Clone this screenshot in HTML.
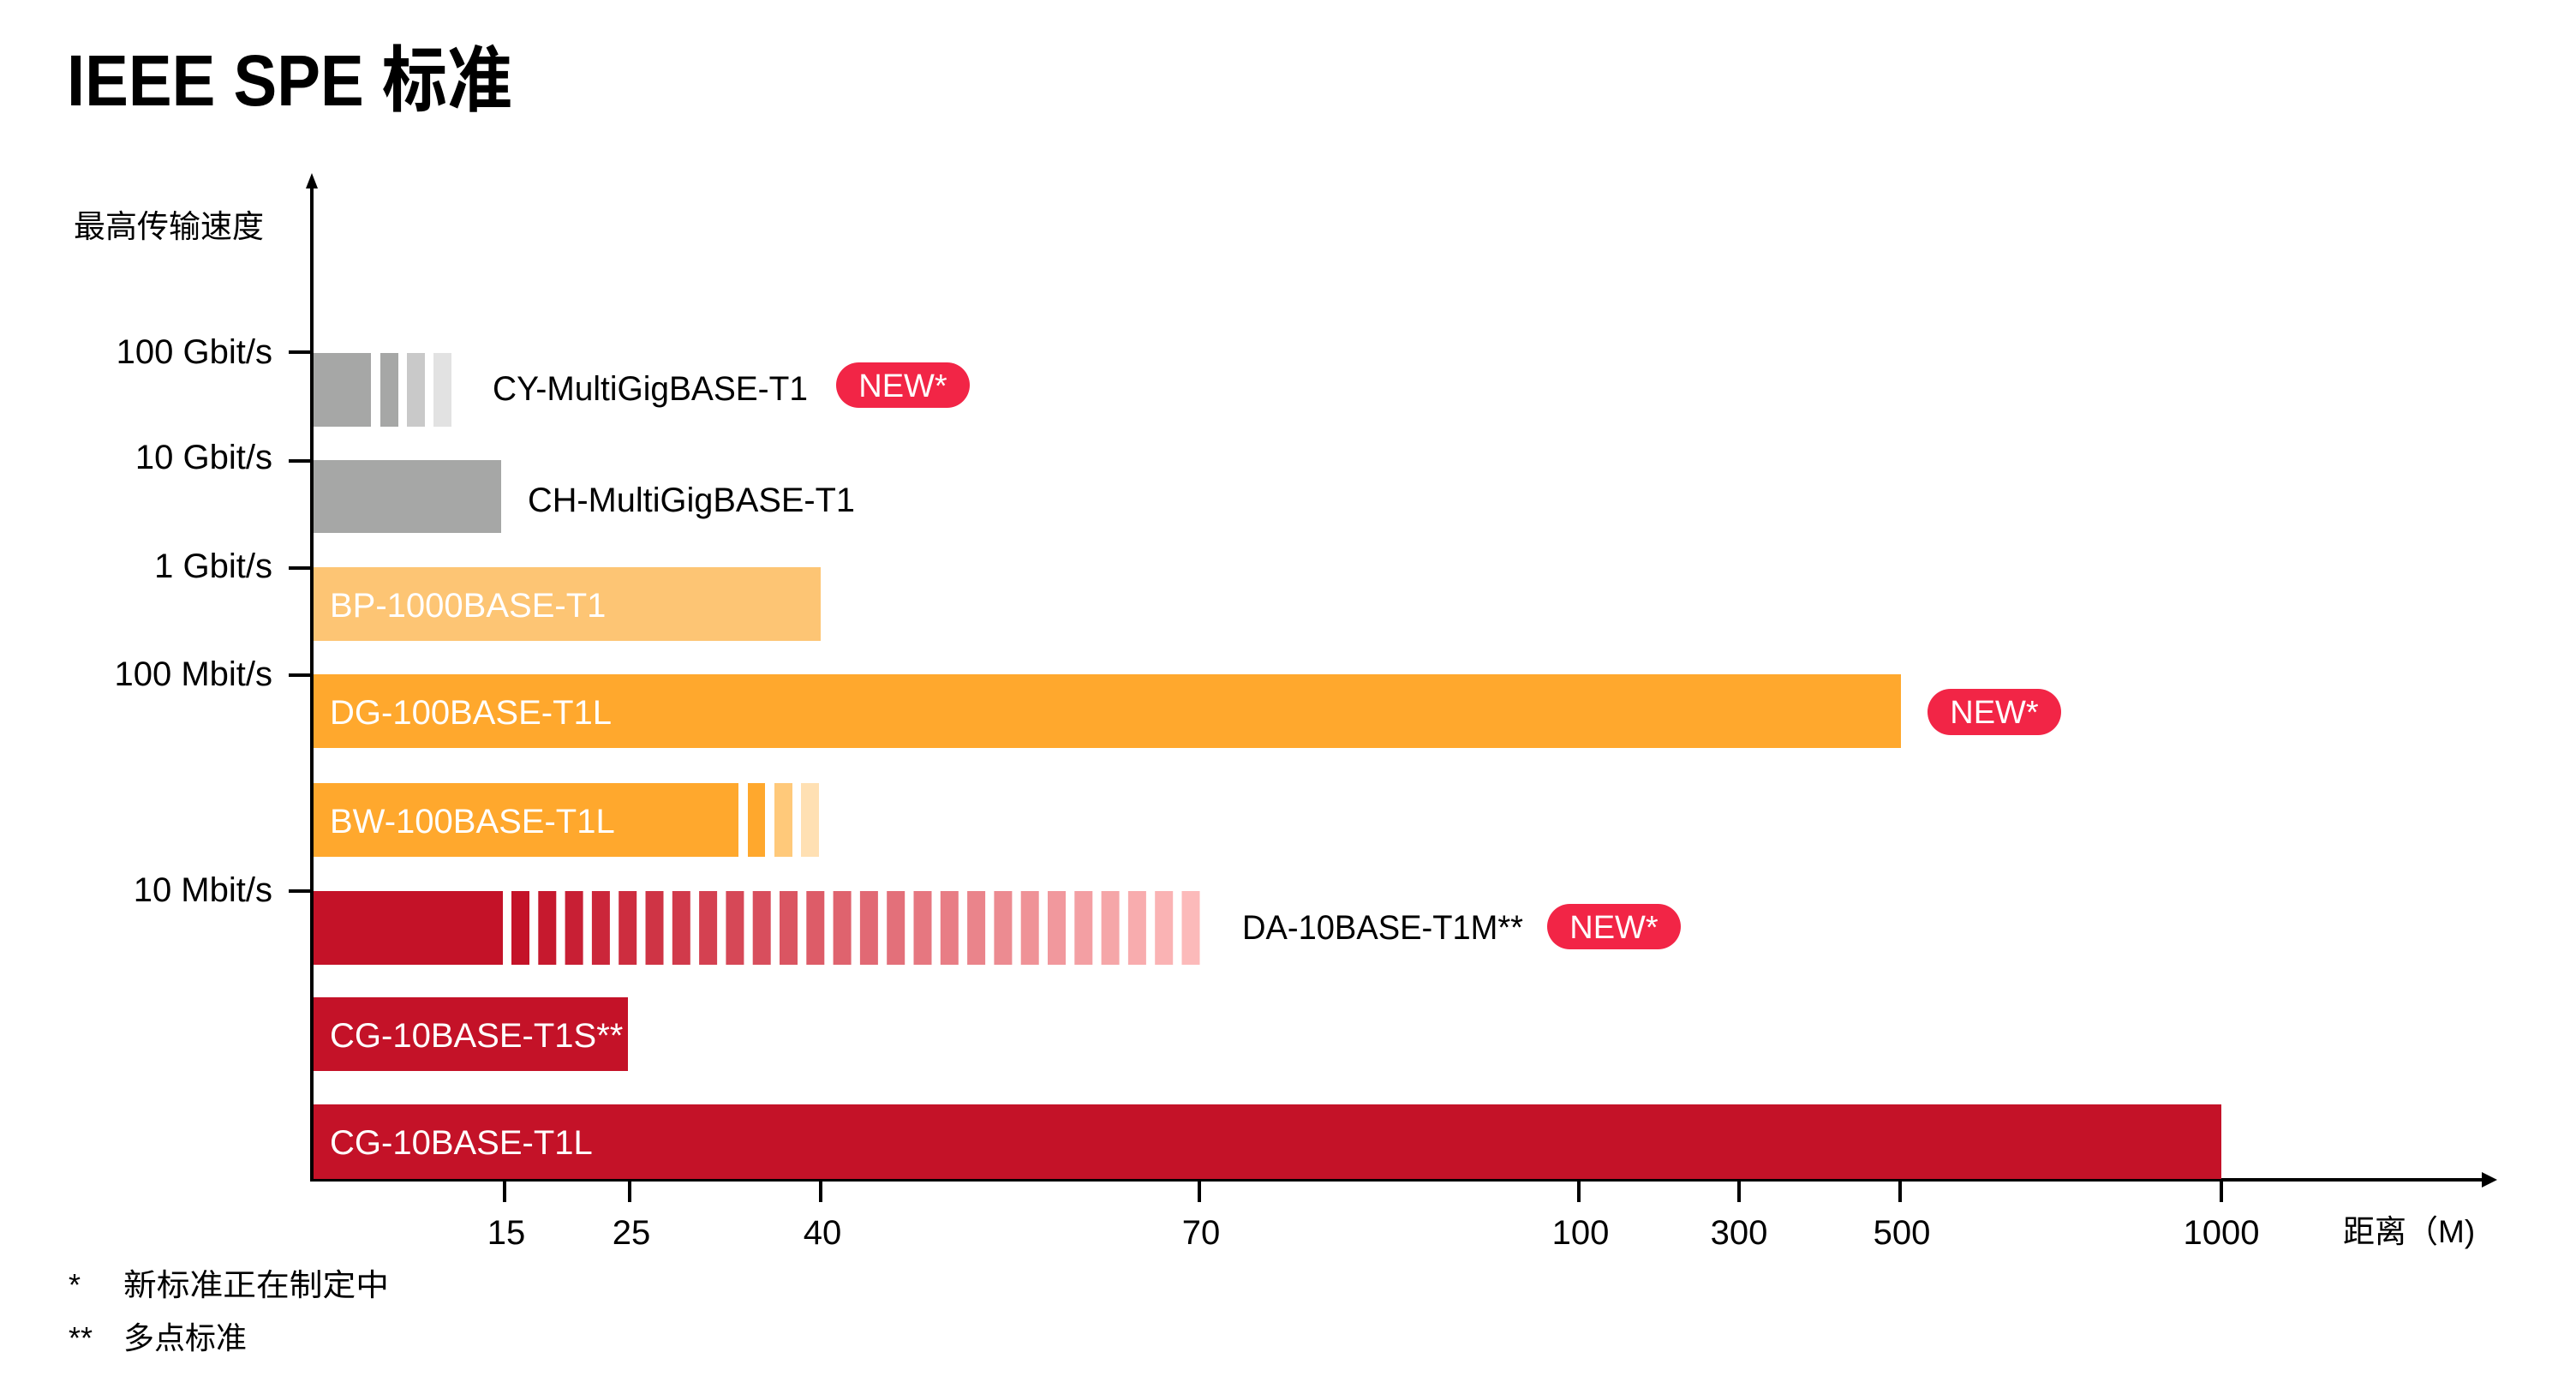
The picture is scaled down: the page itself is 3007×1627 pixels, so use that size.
<!DOCTYPE html>
<html><head><meta charset="utf-8"><style>
html,body{margin:0;padding:0;background:#fff;}
svg{display:block;font-family:"Liberation Sans","Noto Sans CJK SC",sans-serif;}
</style></head><body>
<svg width="3007" height="1627" viewBox="0 0 3007 1627" xmlns="http://www.w3.org/2000/svg">
<rect width="3007" height="1627" fill="#fff"/>
<text x="78" y="123" font-size="84" font-weight="bold" fill="#000" textLength="520" lengthAdjust="spacingAndGlyphs">IEEE SPE 标准</text>
<text x="86" y="277" font-size="37" fill="#000">最高传输速度</text>
<line x1="364" y1="214" x2="364" y2="1379" stroke="#000" stroke-width="4"/>
<polygon points="364,202 357,220 371,220" fill="#000"/>
<line x1="362" y1="1377" x2="2900" y2="1377" stroke="#000" stroke-width="4"/>
<polygon points="2915,1377 2897,1368 2897,1386" fill="#000"/>
<g stroke="#000" stroke-width="4">
<line x1="337" y1="411" x2="364" y2="411"/>
<line x1="337" y1="538" x2="364" y2="538"/>
<line x1="337" y1="663" x2="364" y2="663"/>
<line x1="337" y1="788" x2="364" y2="788"/>
<line x1="337" y1="1040" x2="364" y2="1040"/>
</g>
<g font-size="40" fill="#000" text-anchor="end">
<text x="318" y="424">100 Gbit/s</text>
<text x="318" y="547">10 Gbit/s</text>
<text x="318" y="674">1 Gbit/s</text>
<text x="318" y="800">100 Mbit/s</text>
<text x="318" y="1052">10 Mbit/s</text>
</g>
<rect x="366" y="412" width="67" height="86" fill="#a6a7a6"/>
<rect x="444" y="412" width="21" height="86" fill="#a6a7a6"/>
<rect x="475" y="412" width="21" height="86" fill="#c9c9c9"/>
<rect x="506" y="412" width="21" height="86" fill="#e2e2e2"/>
<text x="575" y="467" font-size="40" fill="#000" textLength="368" lengthAdjust="spacingAndGlyphs">CY-MultiGigBASE-T1</text>
<rect x="976" y="423" width="156" height="53" rx="26.5" fill="#f22546"/>
<text x="1054" y="463" font-size="38" fill="#fff" text-anchor="middle">NEW*</text>

<rect x="366" y="537" width="219" height="85" fill="#a6a7a6"/>
<text x="616" y="597" font-size="40" fill="#000" textLength="382" lengthAdjust="spacingAndGlyphs">CH-MultiGigBASE-T1</text>

<rect x="366" y="662" width="592" height="86" fill="#fdc574"/>
<text x="385" y="720" font-size="40" fill="#fff">BP-1000BASE-T1</text>

<rect x="366" y="787" width="1853" height="86" fill="#ffa82d"/>
<text x="385" y="845" font-size="40" fill="#fff">DG-100BASE-T1L</text>
<rect x="2250" y="804" width="156" height="54" rx="27" fill="#f22546"/>
<text x="2328" y="844" font-size="38" fill="#fff" text-anchor="middle">NEW*</text>

<rect x="366" y="914" width="496" height="86" fill="#ffa82d"/>
<rect x="873" y="914" width="20" height="86" fill="#ffa82d"/>
<rect x="904" y="914" width="21" height="86" fill="#ffc97a"/>
<rect x="935" y="914" width="21" height="86" fill="#ffe0b3"/>
<text x="385" y="972" font-size="40" fill="#fff">BW-100BASE-T1L</text>

<rect x="366" y="1040" width="221" height="86" fill="#c41228"/>
<g>
<rect x="597" y="1040" width="21" height="86" fill="rgb(196,18,40)"/>
<rect x="628.3" y="1040" width="21" height="86" fill="rgb(198,25,46)"/>
<rect x="659.6" y="1040" width="21" height="86" fill="rgb(200,31,52)"/>
<rect x="690.9" y="1040" width="21" height="86" fill="rgb(203,38,58)"/>
<rect x="722.2" y="1040" width="21" height="86" fill="rgb(205,45,63)"/>
<rect x="753.5" y="1040" width="21" height="86" fill="rgb(207,52,69)"/>
<rect x="784.8" y="1040" width="21" height="86" fill="rgb(209,58,75)"/>
<rect x="816.1" y="1040" width="21" height="86" fill="rgb(212,65,81)"/>
<rect x="847.4" y="1040" width="21" height="86" fill="rgb(214,72,87)"/>
<rect x="878.7" y="1040" width="21" height="86" fill="rgb(216,78,93)"/>
<rect x="910" y="1040" width="21" height="86" fill="rgb(218,85,98)"/>
<rect x="941.3" y="1040" width="21" height="86" fill="rgb(221,92,104)"/>
<rect x="972.6" y="1040" width="21" height="86" fill="rgb(223,99,110)"/>
<rect x="1003.9" y="1040" width="21" height="86" fill="rgb(225,105,116)"/>
<rect x="1035.2" y="1040" width="21" height="86" fill="rgb(227,112,122)"/>
<rect x="1066.5" y="1040" width="21" height="86" fill="rgb(230,119,128)"/>
<rect x="1097.8" y="1040" width="21" height="86" fill="rgb(232,125,133)"/>
<rect x="1129.1" y="1040" width="21" height="86" fill="rgb(234,132,139)"/>
<rect x="1160.4" y="1040" width="21" height="86" fill="rgb(236,139,145)"/>
<rect x="1191.7" y="1040" width="21" height="86" fill="rgb(239,146,151)"/>
<rect x="1223" y="1040" width="21" height="86" fill="rgb(241,152,157)"/>
<rect x="1254.3" y="1040" width="21" height="86" fill="rgb(243,159,163)"/>
<rect x="1285.6" y="1040" width="21" height="86" fill="rgb(245,166,168)"/>
<rect x="1316.9" y="1040" width="21" height="86" fill="rgb(248,172,174)"/>
<rect x="1348.2" y="1040" width="21" height="86" fill="rgb(250,179,180)"/>
<rect x="1379.5" y="1040" width="21" height="86" fill="rgb(252,186,186)"/>
</g>
<text x="1450" y="1096" font-size="40" fill="#000" textLength="328" lengthAdjust="spacingAndGlyphs">DA-10BASE-T1M**</text>
<rect x="1806" y="1055" width="156" height="53" rx="26.5" fill="#f22546"/>
<text x="1884" y="1095" font-size="38" fill="#fff" text-anchor="middle">NEW*</text>

<rect x="366" y="1164" width="367" height="86" fill="#c41228"/>
<text x="385" y="1222" font-size="40" fill="#fff">CG-10BASE-T1S**</text>

<rect x="366" y="1289" width="2227" height="87" fill="#c41228"/>
<text x="385" y="1347" font-size="40" fill="#fff">CG-10BASE-T1L</text>

<g stroke="#000" stroke-width="4">
<line x1="589" y1="1377" x2="589" y2="1403"/>
<line x1="735" y1="1377" x2="735" y2="1403"/>
<line x1="958" y1="1377" x2="958" y2="1403"/>
<line x1="1400" y1="1377" x2="1400" y2="1403"/>
<line x1="1843" y1="1377" x2="1843" y2="1403"/>
<line x1="2030" y1="1377" x2="2030" y2="1403"/>
<line x1="2218" y1="1377" x2="2218" y2="1403"/>
<line x1="2593" y1="1377" x2="2593" y2="1403"/>
</g>
<g font-size="40" fill="#000" text-anchor="middle">
<text x="591" y="1452">15</text>
<text x="737" y="1452">25</text>
<text x="960" y="1452">40</text>
<text x="1402" y="1452">70</text>
<text x="1845" y="1452">100</text>
<text x="2030" y="1452">300</text>
<text x="2220" y="1452">500</text>
<text x="2593" y="1452">1000</text>
</g>
<text x="2735" y="1450" font-size="37" fill="#000">距离（M)</text>
<g font-size="36" fill="#000">
<text x="80" y="1512">*</text>
<text x="144" y="1512" textLength="310" lengthAdjust="spacingAndGlyphs">新标准正在制定中</text>
<text x="80" y="1574">**</text>
<text x="144" y="1574">多点标准</text>
</g>
</svg>
</body></html>
